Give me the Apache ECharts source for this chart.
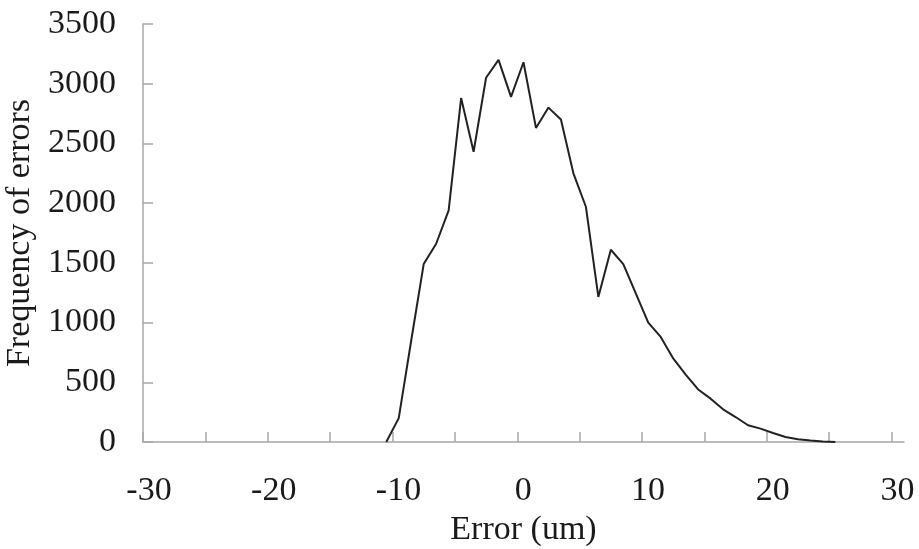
<!DOCTYPE html>
<html>
<head>
<meta charset="utf-8">
<script src="https://cdn.jsdelivr.net/npm/echarts@6/dist/echarts.min.js"></script>
<style>
html,body{margin:0;padding:0;background:#fff;}
#chart{width:919px;height:549px;}
</style>
</head>
<body>
<div id="chart"></div>
<script>
var errorValues = [-10.5,-9.5,-8.5,-7.5,-6.5,-5.5,-4.5,-3.5,-2.5,-1.5,-0.5,0.5,1.5,2.5,3.5,4.5,5.5,6.5,7.5,8.5,9.5,10.5,11.5,12.5,13.5,14.5,15.5,16.5,17.5,18.5,19.5,20.5,21.5,22.5,23.5,24.5,25.5];
var frequencies = [0,200,850,1490,1660,1940,2880,2430,3050,3200,2890,3180,2630,2800,2700,2250,1970,1215,1610,1490,1245,1000,880,700,565,440,363,274,209,140,112,75,42,23,12,5,0];
var xTickValues = [-30,-25,-20,-15,-10,-5,0,5,10,15,20,25,30];
var xLabelValues = [-30,-20,-10,0,10,20,30];
var yMax = 3500;
var yStep = 500;
var xTitle = 'Error (um)';
var yTitle = 'Frequency of errors';

var points = errorValues.map(function (x, i) { return [x, frequencies[i]]; });
var font = '"Liberation Serif", "Times New Roman", serif';
var textColor = '#1a1a1a';
var axisColor = '#a8a8a8';

var chart = echarts.init(document.getElementById('chart'), null, {renderer: 'canvas'});
chart.setOption({
  animation: false,
  backgroundColor: '#ffffff',
  grid: {left: 143, right: 15, top: 24, bottom: 107, containLabel: false, outerBoundsMode: 'none'},
  xAxis: {
    type: 'value',
    min: -30,
    max: 31,
    name: xTitle,
    nameLocation: 'middle',
    nameGap: 70,
    nameTextStyle: {fontFamily: font, fontSize: 34, color: textColor},
    splitLine: {show: false},
    axisLine: {show: true, onZero: false, lineStyle: {color: axisColor, width: 1.5}},
    axisTick: {show: true, inside: true, length: 10, customValues: xTickValues, lineStyle: {color: axisColor, width: 1.5}},
    axisLabel: {customValues: xLabelValues, fontFamily: font, fontSize: 34, color: textColor, margin: 32, padding: [0, 0, 0, 12],
      formatter: function (v) { return String(v); }}
  },
  yAxis: {
    type: 'value',
    min: 0,
    max: yMax,
    interval: yStep,
    name: yTitle,
    nameLocation: 'middle',
    nameGap: 94,
    nameTextStyle: {fontFamily: font, fontSize: 34, color: textColor},
    splitLine: {show: false},
    axisLine: {show: true, onZero: false, lineStyle: {color: axisColor, width: 1.5}},
    axisTick: {show: true, inside: true, length: 10, lineStyle: {color: axisColor, width: 1.5}},
    axisLabel: {fontFamily: font, fontSize: 34, color: textColor, margin: 27,
      formatter: function (v) { return String(v); }}
  },
  series: [{
    type: 'line',
    data: points,
    symbol: 'none',
    lineStyle: {color: '#222222', width: 2}
  }]
});
</script>
</body>
</html>
